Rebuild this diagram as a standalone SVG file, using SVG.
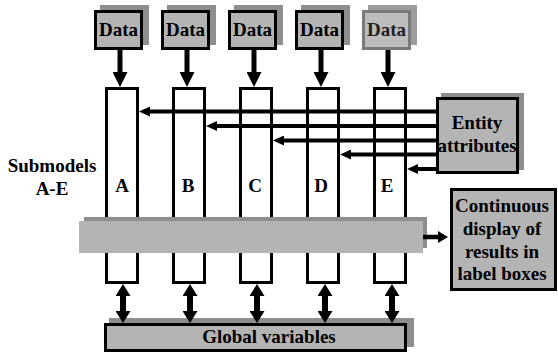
<svg xmlns="http://www.w3.org/2000/svg" width="558" height="354" viewBox="0 0 558 354" font-family="Liberation Serif, DejaVu Serif, serif">
  <style>
    .lbl { font-family: 'Liberation Serif', 'DejaVu Serif', serif; font-weight: 700; font-size: 19px; fill: #000; text-anchor: middle; }
    .box { fill: #b4b4b4; stroke: #000; stroke-width: 3; }
    .shadow { fill: #8e8e8e; stroke: none; }
    .col { fill: #fff; stroke: #000; stroke-width: 3; }
    .faded .box { fill: #bdbdbd; stroke: #7a7a7a; }
    .faded .shadow { fill: #9c9c9c; }
    .faded .lbl { fill: #222; }
    .wire { stroke: #000; fill: none; }
  </style>
  <defs>
    <marker id="headIn" viewBox="0 0 15 15" refX="1" refY="7.5" markerWidth="15" markerHeight="15" markerUnits="userSpaceOnUse" orient="auto">
      <path d="M0,0 L15,7.5 L0,15 Z" fill="#000"/>
    </marker>
    <marker id="headAttr" viewBox="0 0 11 10" refX="1" refY="5" markerWidth="11" markerHeight="10" markerUnits="userSpaceOnUse" orient="auto">
      <path d="M0,0 L11,5 L0,10 Z" fill="#000"/>
    </marker>
    <marker id="headOut" viewBox="0 0 10 12" refX="1" refY="6" markerWidth="10" markerHeight="12" markerUnits="userSpaceOnUse" orient="auto">
      <path d="M0,0 L10,6 L0,12 Z" fill="#000"/>
    </marker>
    <marker id="headBi" viewBox="0 0 12 15" refX="1" refY="7.5" markerWidth="12" markerHeight="15" markerUnits="userSpaceOnUse" orient="auto-start-reverse">
      <path d="M0,0 L12,7.5 L0,15 Z" fill="#000"/>
    </marker>
  </defs>

  <!-- side caption -->
  <text class="lbl" x="52" y="172">Submodels</text>
  <text class="lbl" x="52" y="195">A-E</text>

  <!-- data sources -->
  <g id="dataA"><rect class="shadow" x="100" y="5" width="49" height="40"/><rect class="box" x="95.5" y="11.5" width="46" height="37"/><text class="lbl" x="118.5" y="36">Data</text></g>
  <g id="dataB"><rect class="shadow" x="167" y="5" width="49" height="40"/><rect class="box" x="162.5" y="11.5" width="46" height="37"/><text class="lbl" x="185.5" y="36">Data</text></g>
  <g id="dataC"><rect class="shadow" x="234" y="5" width="49" height="40"/><rect class="box" x="229.5" y="11.5" width="46" height="37"/><text class="lbl" x="252.5" y="36">Data</text></g>
  <g id="dataD"><rect class="shadow" x="301" y="5" width="49" height="40"/><rect class="box" x="296.5" y="11.5" width="46" height="37"/><text class="lbl" x="319.5" y="36">Data</text></g>
  <g id="dataE" class="faded"><rect class="shadow" x="368" y="5" width="49" height="40"/><rect class="box" x="363.5" y="11.5" width="46" height="37"/><text class="lbl" x="386.5" y="36">Data</text></g>

  <!-- submodel columns -->
  <g id="subA"><rect class="col" x="106.5" y="88.5" width="31" height="194"/><text class="lbl" x="122" y="192">A</text></g>
  <g id="subB"><rect class="col" x="173.5" y="88.5" width="31" height="194"/><text class="lbl" x="188" y="192">B</text></g>
  <g id="subC"><rect class="col" x="240.5" y="88.5" width="31" height="194"/><text class="lbl" x="255" y="192">C</text></g>
  <g id="subD"><rect class="col" x="307.5" y="88.5" width="31" height="194"/><text class="lbl" x="321" y="192">D</text></g>
  <g id="subE"><rect class="col" x="374.5" y="88.5" width="31" height="194"/><text class="lbl" x="387" y="192">E</text></g>

  <!-- label-box display bar across the columns -->
  <g id="displayBar">
    <rect x="84" y="217" width="343" height="31" fill="#8e8e8e"/>
    <rect x="79" y="221" width="344" height="32" fill="#b4b4b4"/>
  </g>

  <!-- entity attributes -->
  <g id="entity">
    <rect class="shadow" x="441" y="93" width="83" height="77"/>
    <rect class="box" x="437.5" y="98.5" width="80" height="74"/>
    <text class="lbl" x="477" y="129">Entity</text>
    <text class="lbl" x="477" y="152">attributes</text>
  </g>

  <!-- results display -->
  <g id="results">
    <rect class="box" x="451.5" y="189.5" width="104" height="100"/>
    <text class="lbl" x="502" y="212">Continuous</text>
    <text class="lbl" x="502" y="235">display of</text>
    <text class="lbl" x="502" y="257.5">results in</text>
    <text class="lbl" x="502" y="280">label boxes</text>
  </g>

  <!-- global variables -->
  <g id="globals">
    <rect class="shadow" x="109" y="318" width="305" height="29"/>
    <rect class="box" x="105.5" y="324.5" width="300" height="26"/>
    <text class="lbl" x="269" y="343">Global variables</text>
  </g>

  <!-- connectors -->
  <g id="connectors">
    <!-- data feeds into each submodel -->
    <line class="wire" stroke-width="5" x1="120" y1="50" x2="120" y2="73" marker-end="url(#headIn)"/>
    <line class="wire" stroke-width="5" x1="187" y1="50" x2="187" y2="73" marker-end="url(#headIn)"/>
    <line class="wire" stroke-width="5" x1="254" y1="50" x2="254" y2="73" marker-end="url(#headIn)"/>
    <line class="wire" stroke-width="5" x1="321" y1="50" x2="321" y2="73" marker-end="url(#headIn)"/>
    <line class="wire" stroke-width="5" x1="388" y1="50" x2="388" y2="73" marker-end="url(#headIn)"/>

    <!-- entity attributes to each submodel -->
    <line class="wire" stroke-width="4" x1="437" y1="111.5" x2="149" y2="111.5" marker-end="url(#headAttr)"/>
    <line class="wire" stroke-width="4" x1="437" y1="126" x2="216" y2="126" marker-end="url(#headAttr)"/>
    <line class="wire" stroke-width="4" x1="437" y1="140.5" x2="283" y2="140.5" marker-end="url(#headAttr)"/>
    <line class="wire" stroke-width="4" x1="437" y1="154.5" x2="350" y2="154.5" marker-end="url(#headAttr)"/>
    <line class="wire" stroke-width="4" x1="437" y1="169" x2="417" y2="169" marker-end="url(#headAttr)"/>

    <!-- display bar to results box -->
    <line class="wire" stroke-width="4.5" x1="423" y1="237" x2="439" y2="237" marker-end="url(#headOut)"/>

    <!-- two-way links to global variables -->
    <line class="wire" stroke-width="6" x1="123" y1="295" x2="123" y2="312" marker-start="url(#headBi)" marker-end="url(#headBi)"/>
    <line class="wire" stroke-width="6" x1="190" y1="295" x2="190" y2="312" marker-start="url(#headBi)" marker-end="url(#headBi)"/>
    <line class="wire" stroke-width="6" x1="257" y1="295" x2="257" y2="312" marker-start="url(#headBi)" marker-end="url(#headBi)"/>
    <line class="wire" stroke-width="6" x1="325" y1="295" x2="325" y2="312" marker-start="url(#headBi)" marker-end="url(#headBi)"/>
    <line class="wire" stroke-width="6" x1="392" y1="295" x2="392" y2="312" marker-start="url(#headBi)" marker-end="url(#headBi)"/>
  </g>
</svg>
